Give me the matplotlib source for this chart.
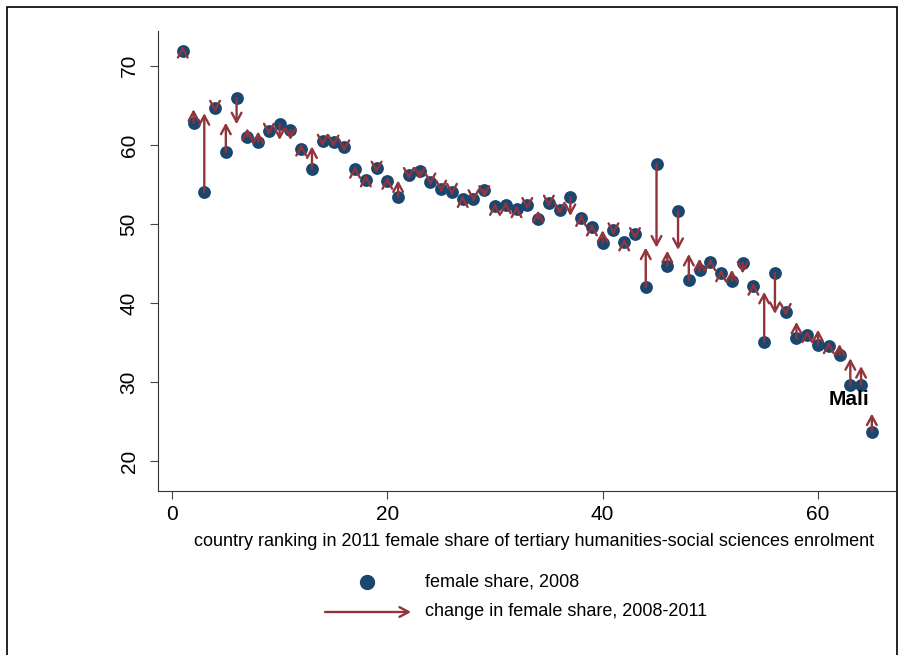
import matplotlib
matplotlib.use("Agg")
import matplotlib.pyplot as plt
from matplotlib.patches import Rectangle, FancyArrowPatch
from matplotlib.lines import Line2D
import numpy as np

# rank of country by 2011 female share (1 = highest)
rank = np.arange(1, 66)

# female share of tertiary humanities-social sciences enrolment, 2008 (dots)
share_2008 = [71.9, 62.8, 54.0, 64.7, 59.1, 65.9, 61.0, 60.4, 61.7, 62.6,
              61.9, 59.5, 57.0, 60.5, 60.3, 59.7, 56.9, 55.6, 57.1, 55.4,
              53.4, 56.2, 56.7, 55.3, 54.4, 54.0, 53.2, 53.2, 54.3, 52.2,
              52.4, 51.9, 52.4, 50.6, 52.6, 51.8, 53.4, 50.8, 49.6, 47.6,
              49.2, 47.7, 48.7, 42.0, 57.6, 44.7, 51.6, 42.9, 44.1, 45.2,
              43.8, 42.8, 45.1, 42.1, 35.1, 43.8, 38.9, 35.5, 35.9, 34.7,
              34.6, 33.4, 29.6, 29.6, 23.7]

# female share, 2011 (arrow tips)
share_2011 = [72.5, 64.5, 64.0, 64.1, 62.8, 62.6, 62.1, 61.7, 61.2, 60.6,
              60.6, 60.1, 59.8, 59.8, 59.7, 59.1, 57.3, 56.2, 56.4, 55.9,
              55.5, 55.6, 55.6, 54.9, 54.0, 53.6, 53.6, 52.8, 53.3, 52.6,
              52.8, 52.3, 51.8, 51.7, 52.1, 51.2, 51.0, 51.2, 50.0, 49.2,
              48.6, 48.1, 48.0, 47.0, 47.0, 46.6, 46.7, 46.2, 45.6, 45.6,
              44.2, 44.2, 43.7, 42.5, 41.4, 38.6, 38.4, 37.6, 36.5, 36.6,
              35.1, 34.8, 33.0, 32.0, 26.0]

label_text = "Mali"
label_pos = (62.9, 27.8)

xticks = [0, 20, 40, 60]
yticks = [20, 30, 40, 50, 60, 70]

navy = "#1a476f"
maroon = "#90353b"
plt.rcParams["font.family"] = ["Liberation Sans", "DejaVu Sans"]
arrow_style = "->,head_length=0.65,head_width=0.35"

fig = plt.figure(figsize=(8.99, 6.55), dpi=100)
ax = fig.add_axes([158 / 899, 1 - 491 / 655, (895 - 158) / 899, (491 - 31) / 655])

ax.scatter(rank, share_2008, s=85, color=navy, zorder=2, linewidths=0)
for x, y0, y1 in zip(rank, share_2008, share_2011):
    ax.annotate("", xy=(x, y1), xytext=(x, y0),
                arrowprops=dict(arrowstyle=arrow_style, color=maroon, lw=1.7,
                                shrinkA=0, shrinkB=0),
                zorder=3)
ax.text(label_pos[0], label_pos[1], label_text, fontsize=15, fontweight="bold",
        ha="center", va="center", zorder=4)

ax.set_xlim(-1.3, 67.15)
ax.set_ylim(16.2, 74.4)
ax.set_xticks(xticks)
ax.set_yticks(yticks)
ax.tick_params(axis="both", labelsize=15, length=6, width=0.8, color="#444444")
ax.tick_params(axis="y", pad=8)
ax.tick_params(axis="x", pad=4)
for lab in ax.get_yticklabels():
    lab.set_rotation(90)
    lab.set_va("center")
for side in ["top", "right"]:
    ax.spines[side].set_visible(False)
for side in ["left", "bottom"]:
    ax.spines[side].set_linewidth(0.8)
    ax.spines[side].set_color("#333333")

fig.text(534 / 899, 1 - 541 / 655,
         "country ranking in 2011 female share of tertiary humanities-social sciences enrolment",
         fontsize=13, ha="center", va="center")

# legend
fig.add_artist(Line2D([367 / 899], [1 - 582 / 655], marker="o", markersize=10,
                      color=navy, linestyle="none", transform=fig.transFigure))
fig.text(425 / 899, 1 - 582 / 655, "female share, 2008", fontsize=13, va="center")
fig.add_artist(FancyArrowPatch(
    (325 / 899, 1 - 612 / 655), (411 / 899, 1 - 612 / 655),
    transform=fig.transFigure, arrowstyle=arrow_style,
    mutation_scale=10, color=maroon, lw=1.7, shrinkA=0, shrinkB=0))
fig.text(425 / 899, 1 - 612 / 655, "change in female share, 2008-2011", fontsize=13,
         va="center")

# outer frame
fig.add_artist(Rectangle((7 / 899, -0.01), (897 - 7) / 899, 1 - 7 / 655 + 0.01,
                         transform=fig.transFigure, fill=False, edgecolor="black", lw=1.2))

fig.savefig("out.png", dpi=100)
